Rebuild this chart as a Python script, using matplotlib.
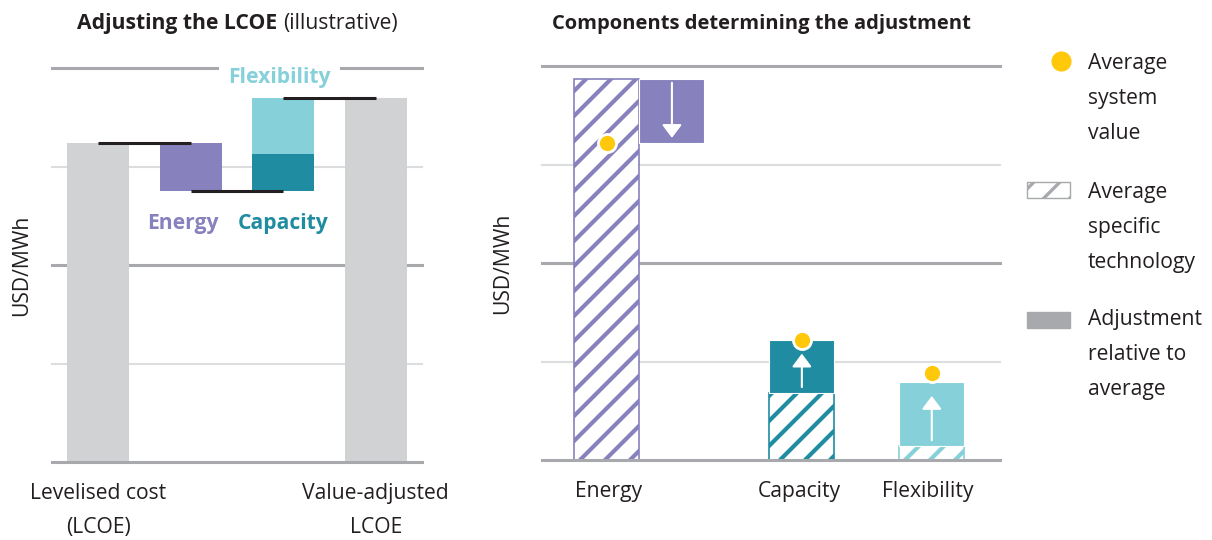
import matplotlib
matplotlib.use('Agg')
import matplotlib.pyplot as plt
import numpy as np
from matplotlib.patches import Rectangle
from matplotlib.lines import Line2D
from matplotlib import transforms

# ---------------- data ----------------
# Left panel: illustrative waterfall (USD/MWh, arbitrary units)
lcoe = 3.24
energy_adj = -0.49
capacity_adj = 0.38
flexibility_adj = 0.57
left_tick_labels = [['Levelised cost', '(LCOE)'], ['Value-adjusted', 'LCOE']]

# Right panel: components determining the adjustment
components = ['Energy', 'Capacity', 'Flexibility']
tech_specific = [3.87, 0.68, 0.14]      # average specific technology (hatched)
adjustment = [-0.65, 0.54, 0.65]        # adjustment relative to average
system_value = [3.22, 1.22, 0.88]       # average system value (dots)

legend_labels = [['Average', 'system', 'value'],
                 ['Average', 'specific', 'technology'],
                 ['Adjustment', 'relative to', 'average']]

# ---------------- style ----------------
GRAY_BAR = '#d1d2d4'
PURPLE = '#8781bd'
TEAL = '#1f8ca1'
LTEAL = '#86d1d9'
YELLOW = '#ffc80b'
GRID_DARK = '#a7a9ac'
GRID_LIGHT = '#dcddde'
INK = '#231f20'
FONT = ['Open Sans', 'DejaVu Sans']
FS = 15.2
plt.rcParams['font.family'] = FONT
plt.rcParams['text.color'] = INK

W, H = 1212, 540
fig = plt.figure(figsize=(W / 100, H / 100), dpi=100)


def px_axes(x0, y0, x1, y1):
    return fig.add_axes([x0 / W, 1 - y1 / H, (x1 - x0) / W, (y1 - y0) / H])


axL = px_axes(52, 68, 422, 462)
axR = px_axes(542, 66, 1000, 460)
pix = fig.add_axes([0, 0, 1, 1])
pix.set_xlim(0, W)
pix.set_ylim(H, 0)
pix.axis('off')

for ax in (axL, axR):
    ax.set_ylim(0, 4)
    ax.axis('off')
    for g in range(5):
        dark = g % 2 == 0
        ax.axhline(g, color=GRID_DARK if dark else GRID_LIGHT,
                   lw=2.2 if dark else 1.5, zorder=5 if g == 0 else 1,
                   clip_on=False)

axL.set_xlim(-0.5, 3.5)
axR.set_xlim(-1.0, 6.05)

# ---------------- left panel ----------------
wL = 0.67
base_cap = lcoe + energy_adj
value_adjusted = base_cap + capacity_adj + flexibility_adj
axL.bar(0, lcoe, wL, color=GRAY_BAR, zorder=2)
axL.bar(1, energy_adj, wL, bottom=lcoe, color=PURPLE, zorder=2)
axL.bar(2, capacity_adj, wL, bottom=base_cap, color=TEAL, zorder=2)
axL.bar(2, flexibility_adj, wL, bottom=base_cap + capacity_adj, color=LTEAL, zorder=2)
axL.bar(3, value_adjusted, wL, color=GRAY_BAR, zorder=2)
for (xa, xb, yv) in [(0, 1, lcoe), (1, 2, base_cap), (2, 3, value_adjusted)]:
    axL.plot([xa, xb], [yv, yv], color=INK, lw=2.2, zorder=4, solid_capstyle='butt')

axL.text(0.92, 2.37, 'Energy', color=PURPLE, weight='bold', fontsize=FS,
         ha='center', va='baseline', zorder=6)
axL.text(2.0, 2.37, 'Capacity', color=TEAL, weight='bold', fontsize=FS,
         ha='center', va='baseline', zorder=6)
axL.text(1.96, 3.85, 'Flexibility', color=LTEAL, weight='bold', fontsize=FS,
         ha='center', va='baseline', zorder=6, clip_on=False,
         bbox=dict(boxstyle='square,pad=0.45', fc='white', ec='none'))

# ---------------- right panel ----------------
bar_x = [0.0, 3.0, 5.0]
bar_w = [1.0, 1.0, 1.0]
adj_x = [1.0, 3.0, 5.0]
label_x = [0.03, 2.96, 4.94]
colors = [PURPLE, TEAL, LTEAL]


def hatch_rect(ax, x0, y0, x1, y1, color, spacing=25, lw=3.0, edge_lw=1.2, zorder=3):
    rect = Rectangle((x0, y0), x1 - x0, y1 - y0, facecolor='white',
                     edgecolor='none', zorder=zorder)
    ax.add_patch(rect)
    (dx0, dy0), (dx1, dy1) = ax.transData.transform([(x0, y0), (x1, y1)])
    lo_x, hi_x = sorted([dx0, dx1])
    lo_y, hi_y = sorted([dy0, dy1])
    cmin = lo_y - hi_x
    cmax = hi_y - lo_x
    inv = ax.transData.inverted()
    for c in np.arange(np.floor(cmin / spacing) * spacing, cmax + spacing, spacing):
        p = inv.transform([(lo_x - 10, lo_x - 10 + c), (hi_x + 10, hi_x + 10 + c)])
        ln = Line2D(p[:, 0], p[:, 1], color=color, lw=lw, zorder=zorder + 0.1,
                    solid_capstyle='butt')
        ax.add_line(ln)
        ln.set_clip_path(rect)
    ax.add_patch(Rectangle((x0, y0), x1 - x0, y1 - y0, facecolor='none',
                           edgecolor=color, lw=edge_lw, zorder=zorder + 0.2))


for i in range(3):
    x, w, c = bar_x[i], bar_w[i], colors[i]
    hatch_rect(axR, x - w / 2, 0, x + w / 2, tech_specific[i], c)
    axR.bar(adj_x[i], adjustment[i], w, bottom=tech_specific[i], color=c,
            edgecolor='white', lw=0.8, zorder=3.5)
    top = tech_specific[i] + adjustment[i]
    if adjustment[i] < 0:
        start, tip = tech_specific[i] - 0.04, top + 0.05
    else:
        start, tip = tech_specific[i] + 0.06, top - 0.14
    axR.annotate('', xy=(adj_x[i], tip), xytext=(adj_x[i], start),
                 arrowprops=dict(arrowstyle='-|>,head_length=0.4,head_width=0.3',
                                 mutation_scale=20, color='white', lw=1.5,
                                 shrinkA=0, shrinkB=0), zorder=4)

axR.plot(bar_x, system_value, 'o', ms=13, mfc=YELLOW, mec='white', mew=2,
         zorder=6, clip_on=False)

# ---------------- text ----------------
blendL = transforms.blended_transform_factory(axL.transData, pix.transData)
blendR = transforms.blended_transform_factory(axR.transData, pix.transData)
for xpos, lines in zip([0, 3], left_tick_labels):
    for k, s in enumerate(lines):
        pix.text(xpos, 499 + 34 * k, s, transform=blendL, ha='center',
                 va='baseline', fontsize=FS)
for xpos, s in zip(label_x, components):
    pix.text(xpos, 497, s, transform=blendR, ha='center', va='baseline', fontsize=FS)

pix.text(22, 265, 'USD/MWh', rotation=90, ha='center', va='center', fontsize=FS)
pix.text(503, 263, 'USD/MWh', rotation=90, ha='center', va='center', fontsize=FS)

r = fig.canvas.get_renderer()
t1 = pix.text(0, 29, 'Adjusting the LCOE', weight='bold', ha='left', va='baseline', fontsize=FS)
t2 = pix.text(0, 29, '(illustrative)', ha='left', va='baseline', fontsize=FS)
w1 = t1.get_window_extent(r).width
w2 = t2.get_window_extent(r).width
gap = 6
x_start = 237.5 - (w1 + gap + w2) / 2
t1.set_x(x_start)
t2.set_x(x_start + w1 + gap)
pix.text(761.5, 29, 'Components determining the adjustment', weight='bold',
         ha='center', va='baseline', fontsize=FS - 0.7)

# legend
pix.plot([1061], [61], 'o', ms=14.5, color=YELLOW, mec='none')
hatch_rect(pix, 1027, 182, 1070, 198, GRID_DARK, spacing=26, lw=2.4, edge_lw=1.0)
pix.add_patch(Rectangle((1027, 312), 43, 16, color=GRID_DARK))
for base, lines in zip([69, 198, 325], legend_labels):
    for k, s in enumerate(lines):
        pix.text(1088, base + 35 * k, s, ha='left', va='baseline', fontsize=FS)

fig.savefig('out.png', dpi=100)
